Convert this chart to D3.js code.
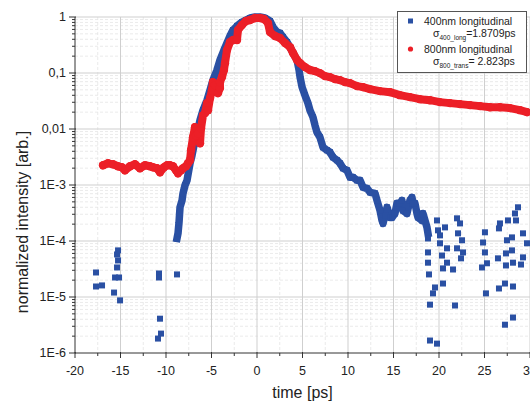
<!DOCTYPE html>
<html>
<head>
<meta charset="utf-8">
<script src="https://cdn.jsdelivr.net/npm/d3@7"></script>
<style>
  body { margin: 0; background: #fff; }
  text { font-family: "Liberation Sans", Arial, sans-serif; fill: #222; }
</style>
</head>
<body>
<svg id="chart" width="530" height="403"></svg>
<script>
// *******************
// Data (time [ps], normalized intensity)
// *******************

// 800nm longitudinal, continuous trace
const red800 = [
  [-16.92, 0.00225], [-16.37, 0.00244], [-15.82, 0.00234], [-15.27, 0.00216], [-14.84, 0.00207],
  [-14.51, 0.00183], [-13.96, 0.00216], [-13.41, 0.00234], [-12.86, 0.00199], [-12.31, 0.00225],
  [-11.76, 0.00216], [-11.43, 0.00207], [-10.99, 0.00199], [-10.66, 0.00169], [-10.22, 0.00207],
  [-9.89, 0.00225], [-9.56, 0.00225], [-9.23, 0.00216], [-8.9, 0.00183], [-8.68, 0.00162],
  [-8.35, 0.00183], [-8.13, 0.00199], [-7.8, 0.00216], [-7.58, 0.00244], [-7.36, 0.00277],
  [-7.25, 0.00418], [-7.03, 0.00713], [-6.81, 0.0108], [-6.7, 0.00775], [-6.48, 0.0084],
  [-6.26, 0.00557], [-6.15, 0.0103], [-5.93, 0.0177], [-5.71, 0.0192], [-5.49, 0.029],
  [-5.38, 0.0217], [-5.16, 0.0356], [-4.95, 0.0494], [-4.84, 0.0687], [-4.62, 0.0608],
  [-4.29, 0.0437], [-4.07, 0.0537], [-4.07, 0.0687], [-3.85, 0.0845], [-3.63, 0.113],
  [-3.52, 0.15], [-3.3, 0.257], [-2.97, 0.357], [-2.64, 0.388], [-2.2, 0.388],
  [-2.09, 0.585], [-1.65, 0.719], [-1.21, 0.848], [-0.77, 0.884], [-0.22, 0.96],
  [0.33, 0.96], [0.77, 0.921], [1.21, 0.78], [1.43, 0.539], [1.98, 0.457],
  [2.53, 0.421], [3.08, 0.343], [3.63, 0.29], [3.96, 0.227], [4.4, 0.17],
  [4.73, 0.15], [5.27, 0.1275], [5.82, 0.113], [6.37, 0.108], [6.92, 0.0995],
  [7.47, 0.088], [8.02, 0.0845], [8.57, 0.0778], [9.12, 0.0746], [9.67, 0.0687],
  [10.22, 0.066], [10.99, 0.0583], [11.65, 0.056], [12.42, 0.0515], [13.52, 0.0475],
  [14.62, 0.0455], [15.71, 0.0402], [16.81, 0.0371], [17.91, 0.0341], [19.01, 0.0327],
  [20.11, 0.0302], [21.21, 0.029], [22.31, 0.0278], [23.41, 0.0267], [24.51, 0.0256],
  [25.6, 0.0245], [26.7, 0.0245], [27.8, 0.0236], [28.9, 0.0217], [29.67, 0.02]
];

// 400nm longitudinal, continuous part of the trace
const blue400 = [
  [-8.79, 1.11e-4], [-8.68, 1.37e-4], [-8.57, 2.15e-4], [-8.46, 4.0e-4], [-8.24, 5.3e-4],
  [-8.13, 7.1e-4], [-7.91, 9.9e-4], [-7.69, 1.21e-3], [-7.36, 2.44e-3], [-7.14, 3.4e-3],
  [-6.81, 6.3e-3], [-6.59, 8.4e-3], [-6.26, 0.0144], [-5.93, 0.0217], [-5.49, 0.0327],
  [-5.16, 0.0494], [-4.84, 0.0746], [-4.4, 0.113], [-4.07, 0.17], [-3.63, 0.257],
  [-3.3, 0.343], [-2.97, 0.457], [-2.64, 0.585], [-2.2, 0.69], [-1.65, 0.814],
  [-1.21, 0.884], [-0.77, 0.96], [-0.22, 1.0], [0.33, 1.0], [0.88, 0.96],
  [1.43, 0.848], [1.76, 0.662], [2.2, 0.539], [2.53, 0.518], [2.86, 0.439],
  [3.3, 0.357], [3.63, 0.29], [3.96, 0.227], [4.4, 0.17], [4.62, 0.113],
  [4.73, 0.0845], [4.95, 0.056], [5.27, 0.0402], [5.6, 0.029], [5.82, 0.0217],
  [6.15, 0.0163], [6.37, 0.0117], [6.59, 0.00877], [6.92, 0.00713], [7.25, 0.00472],
  [7.69, 0.00418], [8.02, 0.00385], [8.35, 0.00313], [8.79, 0.00277], [9.12, 0.00244],
  [9.45, 0.00199], [9.89, 0.00183], [10.22, 0.00137], [10.55, 0.00137], [10.99, 0.00121],
  [11.32, 0.00121], [11.65, 9.1e-4], [12.09, 8.7e-4], [12.42, 7.4e-4], [12.97, 7.1e-4],
  [13.19, 5.3e-4], [13.52, 3.5e-4], [13.74, 2.33e-4], [13.85, 2.06e-4], [14.07, 2.87e-4],
  [14.29, 4.0e-4], [14.62, 2.64e-4], [14.84, 2.64e-4], [15.16, 3.1e-4], [15.38, 4.7e-4],
  [15.71, 4.7e-4], [15.93, 5.3e-4], [16.04, 3.5e-4], [16.48, 3.1e-4], [16.81, 5.3e-4],
  [17.03, 6.0e-4], [17.14, 4.7e-4], [17.36, 4.7e-4], [17.58, 3.1e-4], [17.69, 2.64e-4],
  [18.13, 2.33e-4], [18.24, 3.1e-4], [18.68, 1.75e-4], [18.79, 1.37e-4]
];

// 400nm longitudinal, scattered noise points
const blue400Scatter = [
  [-17.69, 2.74e-5], [-17.69, 1.54e-5], [-17.03, 1.61e-5], [-15.38, 5.75e-5], [-15.27, 4.5e-5],
  [-15.27, 6.8e-5], [-15.38, 3.37e-5], [-15.6, 2.23e-5], [-15.16, 2.23e-5], [-15.71, 1.2e-5],
  [-15.05, 8.7e-6], [-10.77, 2.63e-5], [-10.77, 2.23e-5], [-10.66, 4.1e-6], [-10.55, 2.22e-6],
  [-10.88, 1.81e-6], [-8.79, 2.53e-5],
  [18.79, 1.11e-4], [18.79, 6.25e-5], [18.79, 4.1e-5], [18.9, 2.53e-5], [19.56, 1.48e-5],
  [19.34, 1.16e-5], [19.01, 7.3e-6], [19.01, 1.67e-6], [19.78, 1.47e-6], [19.78, 2.33e-4],
  [19.89, 1.55e-4], [20.11, 9.1e-5], [20.33, 5.5e-5], [20.44, 3.24e-5], [20.44, 1.74e-5],
  [20.88, 7.4e-5], [20.88, 4.1e-5], [21.54, 3.1e-5], [21.76, 7.05e-6], [21.98, 2.54e-4],
  [22.31, 2.06e-4], [22.09, 1.37e-4], [22.53, 1.03e-4], [21.98, 7.4e-5], [22.64, 6.25e-5],
  [22.42, 4.9e-5], [25.05, 1.43e-4], [24.84, 9.4e-5], [25.05, 6.25e-5], [25.27, 4.0e-5],
  [24.73, 3.37e-5], [25.16, 1.16e-5], [26.7, 2.06e-4], [26.59, 1.68e-4], [27.58, 2.33e-4],
  [28.35, 3.1e-4], [28.68, 4.0e-4], [28.46, 2.33e-4], [27.47, 1.03e-4], [28.02, 1.16e-4],
  [29.23, 1.37e-4], [29.67, 9.1e-5], [28.02, 6.8e-5], [27.36, 6.0e-5], [26.48, 4.9e-5],
  [28.13, 4.1e-5], [29.01, 3.8e-5], [29.23, 5.1e-5], [27.36, 3.66e-5], [26.59, 1.42e-5],
  [27.25, 1.74e-5], [28.13, 1.54e-5], [27.25, 3.2e-6], [28.13, 4.3e-6], [20.11, 1.26e-4],
  [20.66, 1.75e-4]
];

const xTicks = [-20, -15, -10, -5, 0, 5, 10, 15, 20, 25, 30];
const yTicks = [1, 0.1, 0.01, 1e-3, 1e-4, 1e-5, 1e-6];
const yTickLabels = ["1", "0,1", "0,01", "1E-3", "1E-4", "1E-5", "1E-6"];

// *******************
// Layout
// *******************
const MARGIN = { LEFT: 75, TOP: 17, RIGHT: 530, BOTTOM: 353 };
const BLUE = "#2a50a3";
const RED = "#ec1f27";

const svg = d3.select("#chart");

const x = d3.scaleLinear().domain([-20, 30]).range([MARGIN.LEFT, MARGIN.RIGHT]);
const y = d3.scaleLog().domain([1e-6, 1]).range([MARGIN.BOTTOM, MARGIN.TOP]);

// minor positions
const xMinor = d3.range(-20, 30.01, 2.5).filter((d) => d % 5 !== 0);
const yMinor = [];
for (let e = -6; e < 0; e++) {
  for (let m = 2; m <= 9; m++) yMinor.push(m * Math.pow(10, e));
}

// grid
const grid = svg.append("g").attr("class", "grid");
grid.selectAll(".hminor").data(yMinor).join("line")
  .attr("x1", MARGIN.LEFT).attr("x2", MARGIN.RIGHT)
  .attr("y1", (d) => y(d)).attr("y2", (d) => y(d))
  .attr("stroke", "#e4e4e4").attr("stroke-width", 0.8).attr("stroke-dasharray", "3,2");
grid.selectAll(".vminor").data(xMinor).join("line")
  .attr("x1", (d) => x(d)).attr("x2", (d) => x(d))
  .attr("y1", MARGIN.TOP).attr("y2", MARGIN.BOTTOM)
  .attr("stroke", "#e4e4e4").attr("stroke-width", 0.8).attr("stroke-dasharray", "3,2");
grid.selectAll(".hmajor").data(yTicks.slice(0, -1)).join("line")
  .attr("x1", MARGIN.LEFT).attr("x2", MARGIN.RIGHT)
  .attr("y1", (d) => y(d)).attr("y2", (d) => y(d))
  .attr("stroke", "#cfcfcf").attr("stroke-width", 1);
grid.selectAll(".vmajor").data(xTicks.slice(1)).join("line")
  .attr("x1", (d) => x(d)).attr("x2", (d) => x(d))
  .attr("y1", MARGIN.TOP).attr("y2", MARGIN.BOTTOM)
  .attr("stroke", "#cfcfcf").attr("stroke-width", 1);

// data
svg.append("clipPath").attr("id", "plotclip")
  .append("rect")
  .attr("x", MARGIN.LEFT - 4).attr("y", MARGIN.TOP - 6)
  .attr("width", MARGIN.RIGHT - MARGIN.LEFT + 8).attr("height", MARGIN.BOTTOM - MARGIN.TOP + 6);

const dataGroup = svg.append("g").attr("clip-path", "url(#plotclip)");
const line = d3.line().x((d) => x(d[0])).y((d) => y(d[1]));

dataGroup.append("path")
  .datum(blue400)
  .attr("d", line)
  .attr("fill", "none").attr("stroke", BLUE)
  .attr("stroke-width", 7.5).attr("stroke-linejoin", "round").attr("stroke-linecap", "square");
dataGroup.selectAll(".blue-pt").data(blue400.concat(blue400Scatter)).join("rect")
  .attr("class", "blue-pt")
  .attr("x", (d) => x(d[0]) - 3).attr("y", (d) => y(d[1]) - 3)
  .attr("width", 6).attr("height", 6)
  .attr("fill", BLUE);

dataGroup.append("path")
  .datum(red800)
  .attr("d", line)
  .attr("fill", "none").attr("stroke", RED)
  .attr("stroke-width", 8).attr("stroke-linejoin", "round").attr("stroke-linecap", "round");
dataGroup.selectAll(".red-pt").data(red800).join("circle")
  .attr("class", "red-pt")
  .attr("cx", (d) => x(d[0])).attr("cy", (d) => y(d[1]))
  .attr("r", 4.2)
  .attr("fill", RED);

// axes
const axisColor = "#333";
const axes = svg.append("g");
axes.append("line")
  .attr("x1", MARGIN.LEFT).attr("x2", MARGIN.LEFT)
  .attr("y1", MARGIN.TOP).attr("y2", MARGIN.BOTTOM)
  .attr("stroke", axisColor);
axes.append("line")
  .attr("x1", MARGIN.LEFT).attr("x2", MARGIN.RIGHT)
  .attr("y1", MARGIN.BOTTOM).attr("y2", MARGIN.BOTTOM)
  .attr("stroke", axisColor);

axes.selectAll(".ymaj").data(yTicks).join("line")
  .attr("x1", MARGIN.LEFT - 6).attr("x2", MARGIN.LEFT + 1)
  .attr("y1", (d) => y(d)).attr("y2", (d) => y(d))
  .attr("stroke", axisColor);
axes.selectAll(".ymin").data(yMinor).join("line")
  .attr("x1", MARGIN.LEFT - 3).attr("x2", MARGIN.LEFT)
  .attr("y1", (d) => y(d)).attr("y2", (d) => y(d))
  .attr("stroke", axisColor);
axes.selectAll(".ylab").data(yTicks).join("text")
  .attr("x", MARGIN.LEFT - 9).attr("y", (d) => y(d))
  .attr("dy", "0.35em").attr("text-anchor", "end")
  .attr("font-size", 12.5)
  .text((d, i) => yTickLabels[i]);

axes.selectAll(".xmaj").data(xTicks).join("line")
  .attr("x1", (d) => x(d)).attr("x2", (d) => x(d))
  .attr("y1", MARGIN.BOTTOM - 1).attr("y2", MARGIN.BOTTOM + 5)
  .attr("stroke", axisColor);
axes.selectAll(".xmin").data(xMinor).join("line")
  .attr("x1", (d) => x(d)).attr("x2", (d) => x(d))
  .attr("y1", MARGIN.BOTTOM).attr("y2", MARGIN.BOTTOM + 3)
  .attr("stroke", axisColor);
// the last label sits on the page edge, as in the original it is clipped there
axes.selectAll(".xlab").data(xTicks).join("text")
  .attr("x", (d) => x(d)).attr("y", MARGIN.BOTTOM + 22)
  .attr("text-anchor", "middle")
  .attr("font-size", 12.5)
  .text((d) => d);

svg.append("text")
  .attr("x", (MARGIN.LEFT + MARGIN.RIGHT) / 2).attr("y", 398)
  .attr("text-anchor", "middle").attr("font-size", 16)
  .text("time [ps]");
svg.append("text")
  .attr("transform", "translate(28, 222) rotate(-90)")
  .attr("text-anchor", "middle").attr("font-size", 16)
  .text("normalized intensity [arb.]");

// legend
const legend = svg.append("g");
legend.append("rect")
  .attr("x", 397.5).attr("y", 11.5).attr("width", 129).attr("height", 61)
  .attr("fill", "#fff").attr("stroke", "#555").attr("stroke-width", 1);
legend.append("rect")
  .attr("x", 408).attr("y", 18.5).attr("width", 5).attr("height", 5).attr("fill", BLUE);
legend.append("circle")
  .attr("cx", 410.5).attr("cy", 49).attr("r", 2.6).attr("fill", RED);

const entries = [
  { name: "400nm longitudinal", sub: "400_long", val: "=1.8709ps", y: 25 },
  { name: "800nm longitudinal", sub: "800_trans", val: "= 2.823ps", y: 53 }
];
entries.forEach((e) => {
  legend.append("text")
    .attr("x", 424).attr("y", e.y).attr("font-size", 10.5)
    .text(e.name);
  const t = legend.append("text")
    .attr("x", 433).attr("y", e.y + 12).attr("font-size", 10.5);
  t.append("tspan").text("σ");
  t.append("tspan").attr("font-size", 6.5).attr("dy", 3).text(e.sub);
  t.append("tspan").attr("dy", -3).text(e.val);
});
</script>
</body>
</html>
